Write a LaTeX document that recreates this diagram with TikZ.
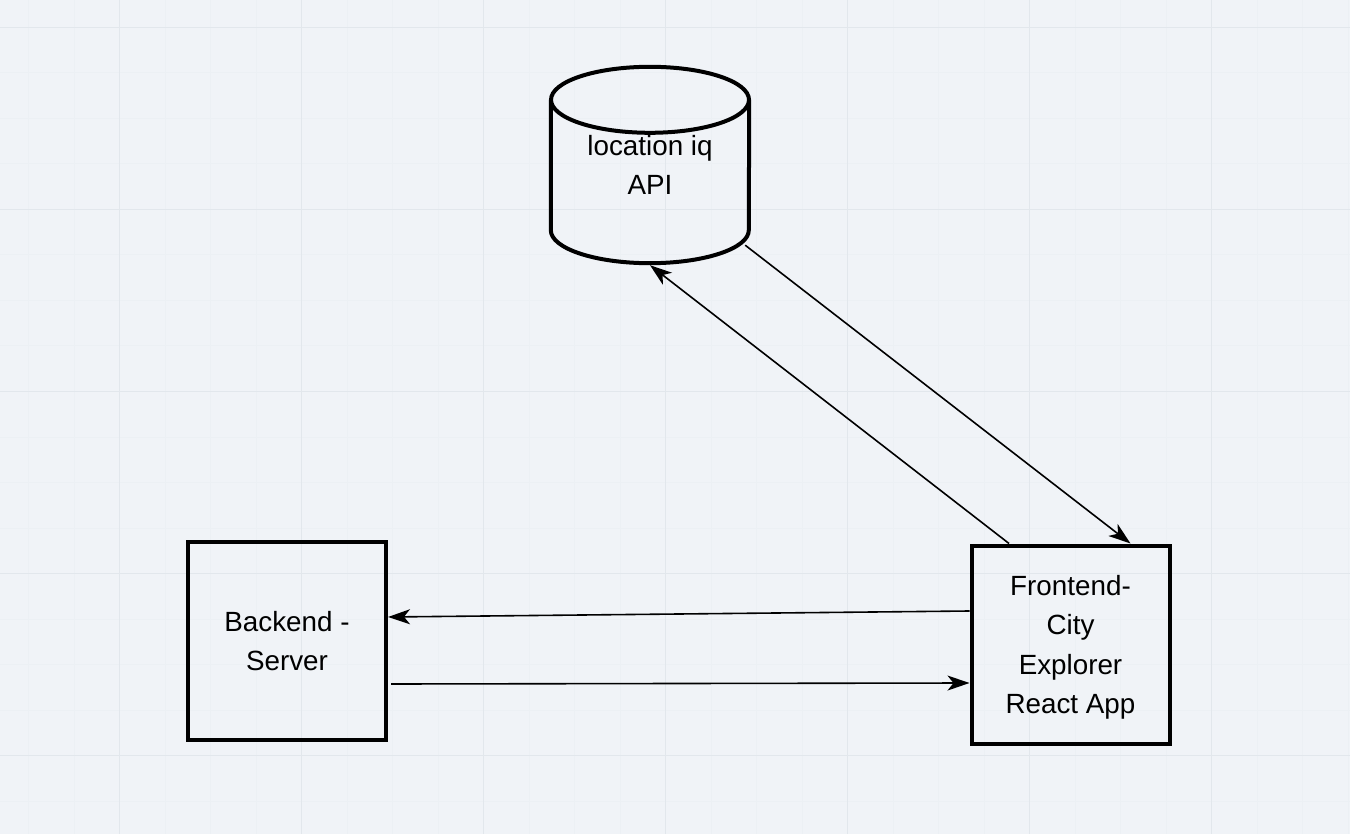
\documentclass[tikz,border=0pt]{standalone}
\usepackage{fontspec}
\setmainfont{Liberation Sans}
\usetikzlibrary{arrows.meta,calc}
\definecolor{bgc}{RGB}{240,243,247}
\definecolor{gridmajor}{RGB}{226,231,236}
\definecolor{gridminor}{RGB}{236,240,244}
\begin{document}
\begin{tikzpicture}[x=1pt,y=-1pt,
  lbl/.style={align=center, inner sep=0pt, text depth=0pt, font=\fontsize{27.8}{39.3}\selectfont},
  box/.style={lbl, draw=black, line width=4pt, minimum width=198pt, minimum height=198pt},
  cyl/.style={draw=black, line width=4pt},
  conn/.style={draw=black, line width=1.6pt, -{Stealth[length=22pt,width=15pt,inset=6pt]}},
  minorline/.style={draw=gridminor, line width=1pt},
  majorline/.style={draw=gridmajor, line width=1pt}
]
\fill[bgc] (0,0) rectangle (1350,834);
\useasboundingbox (0,0) rectangle (1350,834);
% grid
\foreach \i in {0,...,29} {\draw[minorline] ({28.5+45.5*\i},0) -- ({28.5+45.5*\i},834);}
\foreach \i in {0,...,17} {\draw[minorline] (0,{27.5+45.5*\i}) -- (1350,{27.5+45.5*\i});}
\foreach \i in {0,...,6} {\draw[majorline] ({119.5+182*\i},0) -- ({119.5+182*\i},834);}
\foreach \i in {0,...,4} {\draw[majorline] (0,{27.5+182*\i}) -- (1350,{27.5+182*\i});}

% nodes
\node[box] (be) at (287,641) {Backend -\\Server};
\node[box] (fe) at (1070.5,644.5) {Frontend-\\City\\Explorer\\React App};
\node[lbl, minimum width=198pt, minimum height=196pt] (api) at (650,165) {location iq\\API};

% cylinder
\draw[cyl] ($(api.north)+(0,33)$) ellipse [x radius=99, y radius=33];
\draw[cyl] ($(api.north west)+(0,33)$) -- ($(api.south west)+(0,-33)$)
  arc[start angle=180, end angle=0, x radius=99, y radius=33]
  -- ($(api.north east)+(0,33)$);

% connectors
\draw[conn] ($(api.south east)+(-4,-18)$) -- ([xshift=60pt]fe.north);
\draw[conn] ([xshift=-61.5pt]fe.north) -- ([yshift=-2pt]api.south);
\draw[conn] ([yshift=33.5pt]fe.west) -- ([yshift=24pt]be.east);
\draw[conn] ([xshift=3pt,yshift=-43pt]be.east) -- ([yshift=-38.5pt]fe.west);
\end{tikzpicture}
\end{document}
